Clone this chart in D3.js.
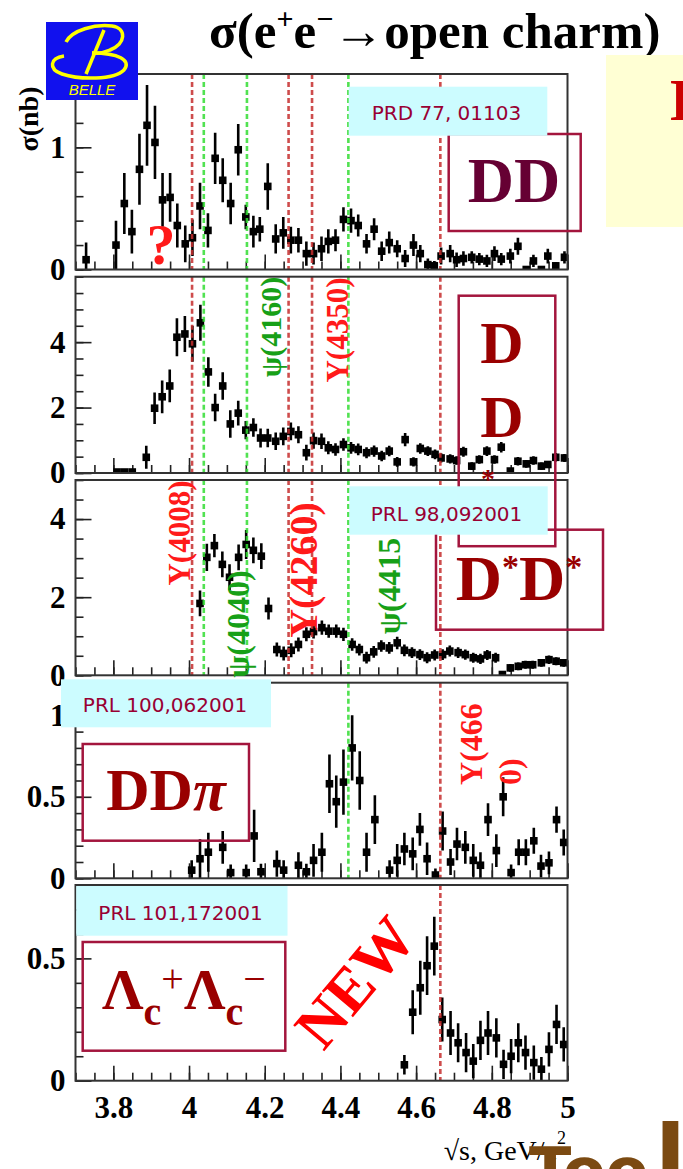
<!DOCTYPE html>
<html>
<head>
<meta charset="utf-8">
<script src="https://cdn.jsdelivr.net/npm/d3@7"></script>
<style>
  body { margin: 0; background: #fff; }
</style>
</head>
<body>
<div id="chart"></div>
<script>
/* CONSTANTS AND GLOBALS */
const width = 683,
  height = 1169,
  xLeft = 75.5,
  xRight = 567.5,
  serif = "Liberation Serif, Times New Roman, serif";

/* DATA */
// each point: [sqrt(s) GeV, sigma nb, error nb]
const ddPoints = [
  [3.728, 0.08, 0.14], [3.807, 0.20, 0.20], [3.829, 0.54, 0.25], [3.849, 0.31, 0.18],
  [3.869, 0.82, 0.29], [3.889, 1.18, 0.33], [3.910, 1.04, 0.30], [3.930, 0.57, 0.22],
  [3.950, 0.59, 0.20], [3.969, 0.36, 0.18], [3.990, 0.21, 0.15], [4.009, 0.26, 0.15],
  [4.029, 0.52, 0.19], [4.050, 0.32, 0.14], [4.069, 0.91, 0.21], [4.089, 0.73, 0.18],
  [4.110, 0.54, 0.17], [4.130, 0.98, 0.21], [4.150, 0.43, 0.10], [4.170, 0.31, 0.13],
  [4.187, 0.33, 0.10], [4.208, 0.68, 0.19], [4.229, 0.25, 0.12], [4.249, 0.30, 0.13],
  [4.269, 0.24, 0.11], [4.289, 0.24, 0.10], [4.310, 0.13, 0.10], [4.329, 0.13, 0.09],
  [4.350, 0.17, 0.10], [4.368, 0.23, 0.10], [4.387, 0.24, 0.09], [4.408, 0.41, 0.10],
  [4.428, 0.40, 0.10], [4.447, 0.36, 0.09], [4.469, 0.21, 0.08], [4.489, 0.33, 0.09],
  [4.509, 0.15, 0.08], [4.529, 0.22, 0.09], [4.550, 0.17, 0.07], [4.571, 0.09, 0.07],
  [4.593, 0.20, 0.09], [4.611, 0.13, 0.07], [4.631, 0.04, 0.05], [4.648, 0.03, 0.04],
  [4.666, 0.11, 0.07], [4.690, 0.13, 0.07], [4.707, 0.08, 0.06], [4.725, 0.09, 0.06],
  [4.747, 0.10, 0.05], [4.767, 0.085, 0.05], [4.787, 0.07, 0.05], [4.807, 0.13, 0.06],
  [4.825, 0.085, 0.05], [4.849, 0.11, 0.06], [4.869, 0.19, 0.07], [4.891, 0.0, 0.02],
  [4.910, 0.07, 0.05], [4.931, 0.0, 0.02], [4.948, 0.11, 0.06], [4.969, 0.03, 0.03],
  [4.992, 0.10, 0.05]
];

const ddStarPoints = [
  [3.810, 0.03, 0.03], [3.830, 0.03, 0.03], [3.850, 0.03, 0.03],
  [3.887, 0.48, 0.35], [3.909, 1.98, 0.48], [3.929, 2.33, 0.50], [3.949, 2.66, 0.50],
  [3.968, 4.15, 0.58], [3.989, 4.25, 0.55], [4.009, 3.95, 0.55], [4.030, 4.59, 0.55],
  [4.051, 3.09, 0.45], [4.069, 2.00, 0.42], [4.089, 2.66, 0.42], [4.109, 1.50, 0.42],
  [4.130, 1.83, 0.38], [4.150, 1.31, 0.28], [4.170, 1.39, 0.28], [4.189, 1.07, 0.29],
  [4.208, 1.07, 0.28], [4.229, 0.97, 0.27], [4.249, 1.12, 0.27], [4.269, 1.27, 0.27],
  [4.289, 1.17, 0.26], [4.310, 0.62, 0.24], [4.329, 0.99, 0.25], [4.350, 0.97, 0.24],
  [4.368, 0.77, 0.20], [4.387, 0.72, 0.19], [4.408, 0.87, 0.19], [4.428, 0.77, 0.18],
  [4.447, 0.72, 0.18], [4.469, 0.62, 0.17], [4.489, 0.67, 0.17], [4.509, 0.52, 0.16],
  [4.529, 0.67, 0.16], [4.550, 0.34, 0.15], [4.571, 1.02, 0.20], [4.593, 0.34, 0.14],
  [4.611, 0.75, 0.16], [4.631, 0.67, 0.15], [4.650, 0.57, 0.15], [4.666, 0.46, 0.14],
  [4.690, 0.43, 0.14], [4.707, 0.38, 0.13], [4.725, 0.65, 0.15], [4.747, 0.21, 0.12],
  [4.767, 0.41, 0.13], [4.787, 0.67, 0.15], [4.807, 0.41, 0.13], [4.825, 0.79, 0.16],
  [4.849, 0.06, 0.08], [4.869, 0.36, 0.13], [4.891, 0.28, 0.12], [4.910, 0.38, 0.13],
  [4.931, 0.21, 0.11], [4.948, 0.26, 0.11], [4.969, 0.48, 0.13], [4.992, 0.46, 0.12]
];

const dStarDStarPoints = [
  [4.029, 1.84, 0.33], [4.047, 3.02, 0.35], [4.067, 3.32, 0.30], [4.088, 2.84, 0.33],
  [4.107, 2.51, 0.33], [4.131, 3.02, 0.33], [4.151, 3.35, 0.37], [4.170, 3.20, 0.33],
  [4.191, 3.05, 0.33], [4.210, 1.71, 0.28], [4.232, 0.66, 0.18], [4.250, 0.56, 0.18],
  [4.270, 0.64, 0.18], [4.289, 0.79, 0.18], [4.310, 1.05, 0.18], [4.329, 1.12, 0.18],
  [4.351, 1.22, 0.18], [4.369, 1.13, 0.17], [4.389, 1.13, 0.17], [4.408, 1.05, 0.17],
  [4.431, 0.79, 0.16], [4.450, 0.66, 0.15], [4.469, 0.45, 0.15], [4.488, 0.60, 0.15],
  [4.508, 0.75, 0.15], [4.529, 0.70, 0.15], [4.550, 0.83, 0.16], [4.569, 0.64, 0.15],
  [4.589, 0.58, 0.14], [4.610, 0.53, 0.14], [4.629, 0.45, 0.14], [4.649, 0.52, 0.14],
  [4.670, 0.53, 0.14], [4.689, 0.62, 0.14], [4.711, 0.58, 0.14], [4.730, 0.53, 0.13],
  [4.751, 0.45, 0.13], [4.770, 0.42, 0.13], [4.788, 0.52, 0.13], [4.810, 0.45, 0.13],
  [4.828, 0.02, 0.03], [4.849, 0.19, 0.10], [4.870, 0.23, 0.10], [4.889, 0.27, 0.10],
  [4.908, 0.27, 0.10], [4.931, 0.32, 0.10], [4.951, 0.40, 0.11], [4.970, 0.36, 0.10],
  [4.990, 0.32, 0.10]
];

const ddPiPoints = [
  [4.007, 0.05, 0.06], [4.029, 0.12, 0.12], [4.051, 0.16, 0.12], [4.089, 0.19, 0.10],
  [4.110, 0.035, 0.05], [4.151, 0.035, 0.05], [4.172, 0.26, 0.16], [4.190, 0.04, 0.05],
  [4.232, 0.09, 0.08], [4.250, 0.05, 0.06], [4.289, 0.08, 0.08], [4.310, 0.04, 0.05],
  [4.329, 0.11, 0.10], [4.351, 0.16, 0.12], [4.371, 0.58, 0.18], [4.389, 0.47, 0.16],
  [4.408, 0.59, 0.20], [4.431, 0.80, 0.20], [4.451, 0.60, 0.18], [4.469, 0.16, 0.12],
  [4.491, 0.36, 0.15], [4.530, 0.05, 0.06], [4.550, 0.11, 0.10], [4.569, 0.18, 0.10],
  [4.591, 0.15, 0.10], [4.610, 0.30, 0.10], [4.629, 0.12, 0.10], [4.651, 0.02, 0.04],
  [4.670, 0.29, 0.12], [4.691, 0.10, 0.08], [4.708, 0.21, 0.10], [4.730, 0.19, 0.10],
  [4.751, 0.11, 0.10], [4.770, 0.08, 0.08], [4.790, 0.36, 0.10], [4.812, 0.17, 0.10],
  [4.830, 0.50, 0.12], [4.851, 0.035, 0.05], [4.871, 0.16, 0.08], [4.890, 0.16, 0.08],
  [4.911, 0.23, 0.08], [4.930, 0.075, 0.07], [4.951, 0.095, 0.07], [4.971, 0.36, 0.08],
  [4.990, 0.22, 0.08]
];

const lcLcPoints = [
  [4.569, 0.065, 0.04], [4.591, 0.28, 0.09], [4.611, 0.38, 0.11], [4.629, 0.47, 0.12],
  [4.648, 0.55, 0.12], [4.669, 0.25, 0.09], [4.691, 0.195, 0.09], [4.711, 0.155, 0.08],
  [4.732, 0.115, 0.08], [4.751, 0.08, 0.07], [4.770, 0.165, 0.08], [4.790, 0.195, 0.09],
  [4.812, 0.175, 0.08], [4.831, 0.067, 0.06], [4.851, 0.10, 0.07], [4.870, 0.155, 0.08],
  [4.889, 0.115, 0.07], [4.911, 0.074, 0.07], [4.931, 0.047, 0.05], [4.951, 0.128, 0.07],
  [4.971, 0.23, 0.08], [4.990, 0.148, 0.07]
];

const resonanceMasses = [4.008, 4.039, 4.153, 4.263, 4.325, 4.421, 4.664];
const resonanceKinds = ["Y", "psi", "psi", "Y", "Y", "psi", "Y"];

const xMajorTicks = [3.8, 4.0, 4.2, 4.4, 4.6, 4.8, 5.0];
const yMaxes = [1.6, 6, 5, 1.2, 0.8];
const yMajorTicks = [[0, 1], [0, 2, 4], [0, 2, 4], [0, 0.5, 1], [0, 0.5]];
const yMinorSteps = [0.2, 0.5, 0.5, 0.1, 0.1];
const references = ["PRD 77, 01103", "PRL 98,092001", "PRL 100,062001", "PRL 101,172001"];

const colors = { Y: "#c62d2d", psi: "#33dd33", Ytext: "#ff1a1a", psitext: "#17a017",
  box: "#a3153d", cyan: "#ccfcff", ref: "#990033", chan: "#990000" };

let svg;
let xScale;

/* INITIALIZING FUNCTION */
function init() {
  svg = d3.select("#chart").append("svg")
    .attr("width", width)
    .attr("height", height)
    .attr("font-family", serif);

  svg.append("rect").attr("width", width).attr("height", height).attr("fill", "#fff");

  xScale = d3.scaleLinear().domain([3.7, 5.0]).range([xLeft, xRight]);

  const panels = [
    { top: 74, bottom: 269.5, points: ddPoints, lines: [0, 1, 2, 3, 4, 5, 6] },
    { top: 276.7, bottom: 473, points: ddStarPoints, lines: [0, 1, 2, 3, 4, 5, 6] },
    { top: 480, bottom: 675.3, points: dStarDStarPoints, lines: [0, 1, 2, 3, 4, 5, 6] },
    { top: 682.7, bottom: 878.3, points: ddPiPoints, lines: [5, 6] },
    { top: 885, bottom: 1080.7, points: lcLcPoints, lines: [6] }
  ];

  panels.forEach((p, i) => drawPanel(p, i, i === panels.length - 1));

  drawDecorations();
}

function drawPanel(p, i, withLabels) {
  const yScale = d3.scaleLinear().domain([0, yMaxes[i]]).range([p.bottom, p.top]);
  const g = svg.append("g").attr("class", `panel panel-${i}`);

  svg.append("clipPath").attr("id", `clip-${i}`)
    .append("rect")
    .attr("x", xLeft).attr("y", p.top)
    .attr("width", xRight - xLeft).attr("height", p.bottom - p.top);

  // x ticks (inside, from the bottom edge)
  const xMinor = d3.range(0, 27).map(k => Math.round((3.7 + k * 0.05) * 100) / 100);
  g.append("g")
    .attr("class", "axis x-minor")
    .attr("transform", `translate(0,${p.bottom})`)
    .call(d3.axisBottom(xScale).tickValues(xMinor).tickSize(-8).tickFormat(""));
  g.append("g")
    .attr("class", "axis x-axis")
    .attr("transform", `translate(0,${p.bottom})`)
    .call(d3.axisBottom(xScale).tickValues(xMajorTicks).tickSize(-15).tickPadding(15)
      .tickFormat(withLabels ? d3.format("~g") : ""));

  // y ticks
  const nMinor = Math.round(yMaxes[i] / yMinorSteps[i]);
  const yMinor = d3.range(0, nMinor + 1).map(k => Math.round(k * yMinorSteps[i] * 100) / 100);
  g.append("g")
    .attr("class", "axis y-minor")
    .attr("transform", `translate(${xLeft},0)`)
    .call(d3.axisLeft(yScale).tickValues(yMinor).tickSize(-8).tickFormat(""));
  g.append("g")
    .attr("class", "axis y-axis")
    .attr("transform", `translate(${xLeft},0)`)
    .call(d3.axisLeft(yScale).tickValues(yMajorTicks[i]).tickSize(-16).tickPadding(10)
      .tickFormat(d3.format("~g")));

  g.selectAll(".axis .domain").remove();
  g.selectAll(".axis line").attr("stroke", "#222").attr("stroke-width", 1.6);
  g.selectAll(".axis text")
    .attr("fill", "#000")
    .attr("font-family", serif)
    .attr("font-weight", "bold")
    .attr("font-size", 31);

  // data: error bars + square markers
  const dg = g.append("g").attr("clip-path", `url(#clip-${i})`);
  dg.selectAll("line.err")
    .data(p.points)
    .join("line")
    .attr("class", "err")
    .attr("x1", d => xScale(d[0]))
    .attr("x2", d => xScale(d[0]))
    .attr("y1", d => yScale(Math.max(0, d[1] - d[2])))
    .attr("y2", d => yScale(d[1] + d[2]))
    .attr("stroke", "#000")
    .attr("stroke-width", 2.6);
  dg.selectAll("rect.pt")
    .data(p.points)
    .join("rect")
    .attr("class", "pt")
    .attr("x", d => xScale(d[0]) - 3.8)
    .attr("y", d => yScale(d[1]) - 3.8)
    .attr("width", 7.6)
    .attr("height", 7.6)
    .attr("fill", "#000");

  // resonance positions
  dg.selectAll("line.res")
    .data(p.lines)
    .join("line")
    .attr("class", "res")
    .attr("x1", k => xScale(resonanceMasses[k]))
    .attr("x2", k => xScale(resonanceMasses[k]))
    .attr("y1", p.top)
    .attr("y2", p.bottom)
    .attr("stroke", k => colors[resonanceKinds[k]])
    .attr("stroke-width", 2.6)
    .attr("stroke-dasharray", "5,3")
    .attr("opacity", 0.85);

  // frame
  g.append("rect")
    .attr("x", xLeft).attr("y", p.top)
    .attr("width", xRight - xLeft).attr("height", p.bottom - p.top)
    .attr("fill", "none")
    .attr("stroke", "#333")
    .attr("stroke-width", 2);
}

function vLabel(text, x, y, size, color, anchor) {
  return svg.append("text")
    .attr("transform", `translate(${x},${y}) rotate(-90)`)
    .attr("text-anchor", anchor || "middle")
    .attr("dominant-baseline", "central")
    .attr("font-weight", "bold")
    .attr("font-size", size)
    .attr("fill", color)
    .text(text);
}

function refBox(text, x, y, w, h, cx, base) {
  svg.append("rect").attr("x", x).attr("y", y).attr("width", w).attr("height", h)
    .attr("fill", colors.cyan);
  svg.append("text")
    .attr("x", cx).attr("y", base)
    .attr("text-anchor", "middle")
    .attr("font-family", "DejaVu Sans, sans-serif")
    .attr("font-size", 20)
    .attr("fill", colors.ref)
    .text(text);
}

function chanBox(x, y, w, h) {
  svg.append("rect").attr("x", x).attr("y", y).attr("width", w).attr("height", h)
    .attr("fill", "none").attr("stroke", colors.box).attr("stroke-width", 2.5);
}

function drawDecorations() {
  // title
  const title = svg.append("text")
    .attr("x", 209).attr("y", 48)
    .attr("font-weight", "bold")
    .attr("font-size", 51)
    .attr("fill", "#000");
  title.append("tspan").text("σ(e");
  title.append("tspan").attr("font-size", 30).attr("dy", -19).text("+");
  title.append("tspan").attr("dy", 19).text("e");
  title.append("tspan").attr("font-size", 30).attr("dy", -19).text("−");
  title.append("tspan").attr("dy", 19).text("→open charm)");

  // Belle logo
  svg.append("rect").attr("x", 46).attr("y", 22).attr("width", 92).attr("height", 78)
    .attr("fill", "#1111ee");
  const bPaths = [
    "M66,42 C72,30 95,24 112,26 C127,28 126,44 110,50 C101,54 92,53 92,53",
    "M92,53 C118,53 132,60 124,70 C114,80 80,80 62,74 C48,69 50,58 64,56",
    "M104,30 L86,74"
  ];
  svg.selectAll("path.belle").data(bPaths).join("path")
    .attr("class", "belle")
    .attr("d", d => d)
    .attr("fill", "none")
    .attr("stroke", "#ffff00")
    .attr("stroke-width", 3.5);
  svg.append("text").attr("x", 92).attr("y", 95)
    .attr("text-anchor", "middle")
    .attr("font-family", "Liberation Sans, sans-serif")
    .attr("font-style", "italic")
    .attr("font-size", 15)
    .attr("fill", "#ffff00")
    .text("BELLE");

  // y title
  vLabel("σ(nb)", 28, 119, 28, "#000");

  // right-hand note (cut off)
  svg.append("rect").attr("x", 606).attr("y", 55).attr("width", 77).attr("height", 172)
    .attr("fill", "#ffffd4");
  svg.append("text").attr("x", 670).attr("y", 120)
    .attr("font-weight", "bold").attr("font-size", 60).attr("fill", "#cc0000").text("D");

  // resonance labels
  vLabel("ψ(4160)", 270, 327, 30, colors.psitext);
  vLabel("Y(4350)", 337, 330, 31, colors.Ytext);
  vLabel("Y(4008)", 179, 533, 31, colors.Ytext);
  vLabel("ψ(4040)", 238, 624, 32, colors.psitext);
  vLabel("Y(4260)", 303, 570, 40, colors.Ytext);
  vLabel("ψ(4415", 389, 586, 32, colors.psitext);
  vLabel("Y(466", 471, 785, 32, colors.Ytext, "start");
  vLabel("0)", 510, 785, 32, colors.Ytext, "start");

  // question mark
  svg.append("text").attr("x", 161).attr("y", 264)
    .attr("text-anchor", "middle")
    .attr("font-weight", "bold").attr("font-size", 58)
    .attr("fill", "#ff1a1a").text("?");

  // channel boxes
  chanBox(448.7, 134, 132, 97);
  svg.append("text").attr("x", 514).attr("y", 202)
    .attr("text-anchor", "middle").attr("font-weight", "bold").attr("font-size", 64)
    .attr("fill", "#660033").text("DD");

  chanBox(458.7, 295.7, 96.6, 250.5);
  svg.append("text").attr("x", 502).attr("y", 363)
    .attr("text-anchor", "middle").attr("font-weight", "bold").attr("font-size", 60)
    .attr("fill", colors.chan).text("D");
  svg.append("text").attr("x", 502).attr("y", 437)
    .attr("text-anchor", "middle").attr("font-weight", "bold").attr("font-size", 60)
    .attr("fill", colors.chan).text("D");
  svg.append("text").attr("x", 488).attr("y", 488)
    .attr("text-anchor", "middle").attr("font-weight", "bold").attr("font-size", 28)
    .attr("fill", colors.chan).text("*");

  chanBox(436, 529.7, 167, 100);
  const dsds = svg.append("text").attr("x", 519).attr("y", 600)
    .attr("text-anchor", "middle").attr("font-weight", "bold").attr("font-size", 64)
    .attr("fill", colors.chan);
  dsds.append("tspan").text("D");
  dsds.append("tspan").attr("font-size", 34).attr("dy", -22).text("*");
  dsds.append("tspan").attr("dy", 22).text("D");
  dsds.append("tspan").attr("font-size", 34).attr("dy", -22).text("*");

  chanBox(82.7, 744, 166.3, 96.7);
  const ddpi = svg.append("text").attr("x", 166).attr("y", 810)
    .attr("text-anchor", "middle").attr("font-weight", "bold").attr("font-size", 60)
    .attr("fill", colors.chan);
  ddpi.append("tspan").text("DD");
  ddpi.append("tspan").attr("font-style", "italic").text("π");

  chanBox(82.7, 942, 202.6, 108.7);
  const lc = svg.append("text").attr("x", 102).attr("font-weight", "bold")
    .attr("fill", colors.chan);
  lc.append("tspan").attr("y", 1009).attr("font-size", 58).text("Λ");
  lc.append("tspan").attr("y", 1025).attr("font-size", 40).text("c");
  lc.append("tspan").attr("y", 992).attr("font-size", 40).attr("font-weight", "normal").text("+");
  lc.append("tspan").attr("y", 1009).attr("font-size", 58).text("Λ");
  lc.append("tspan").attr("y", 1025).attr("font-size", 40).text("c");
  lc.append("tspan").attr("y", 992).attr("font-size", 40).attr("font-weight", "normal").text("−");

  // reference boxes (drawn over the channel boxes)
  refBox(references[0], 348.7, 86.7, 198.6, 49, 446.5, 120);
  refBox(references[1], 349.3, 486.3, 198.4, 48.4, 446.5, 520.7);
  refBox(references[2], 61, 679.3, 210, 48, 165, 711.7);
  refBox(references[3], 76.2, 886, 211.3, 49.7, 180.5, 920);

  // NEW
  svg.append("text")
    .attr("transform", "translate(355,982) rotate(-50)")
    .attr("text-anchor", "middle")
    .attr("dominant-baseline", "central")
    .attr("font-weight", "bold").attr("font-size", 62)
    .attr("fill", "#ff0000")
    .text("NEW");

  // x title
  const xt = svg.append("text").attr("x", 566).attr("y", 1160)
    .attr("text-anchor", "end").attr("font-size", 28).attr("fill", "#000");
  xt.append("tspan").text("√s, GeV/c");
  xt.append("tspan").attr("font-size", 18).attr("dy", -16).text("2");

  // handwritten note at the bottom (cut off by the picture edge)
  svg.append("text").attr("x", 529).attr("y", 1192)
    .attr("font-family", "DejaVu Sans, sans-serif")
    .attr("font-weight", "bold")
    .attr("font-size", 62).attr("fill", "#7b4a12").text("Too");
  svg.append("text").attr("x", 655).attr("y", 1190)
    .attr("font-family", "DejaVu Sans, sans-serif")
    .attr("font-weight", "bold")
    .attr("font-size", 90).attr("fill", "#7b4a12").text("l");
}

init();
</script>
</body>
</html>
